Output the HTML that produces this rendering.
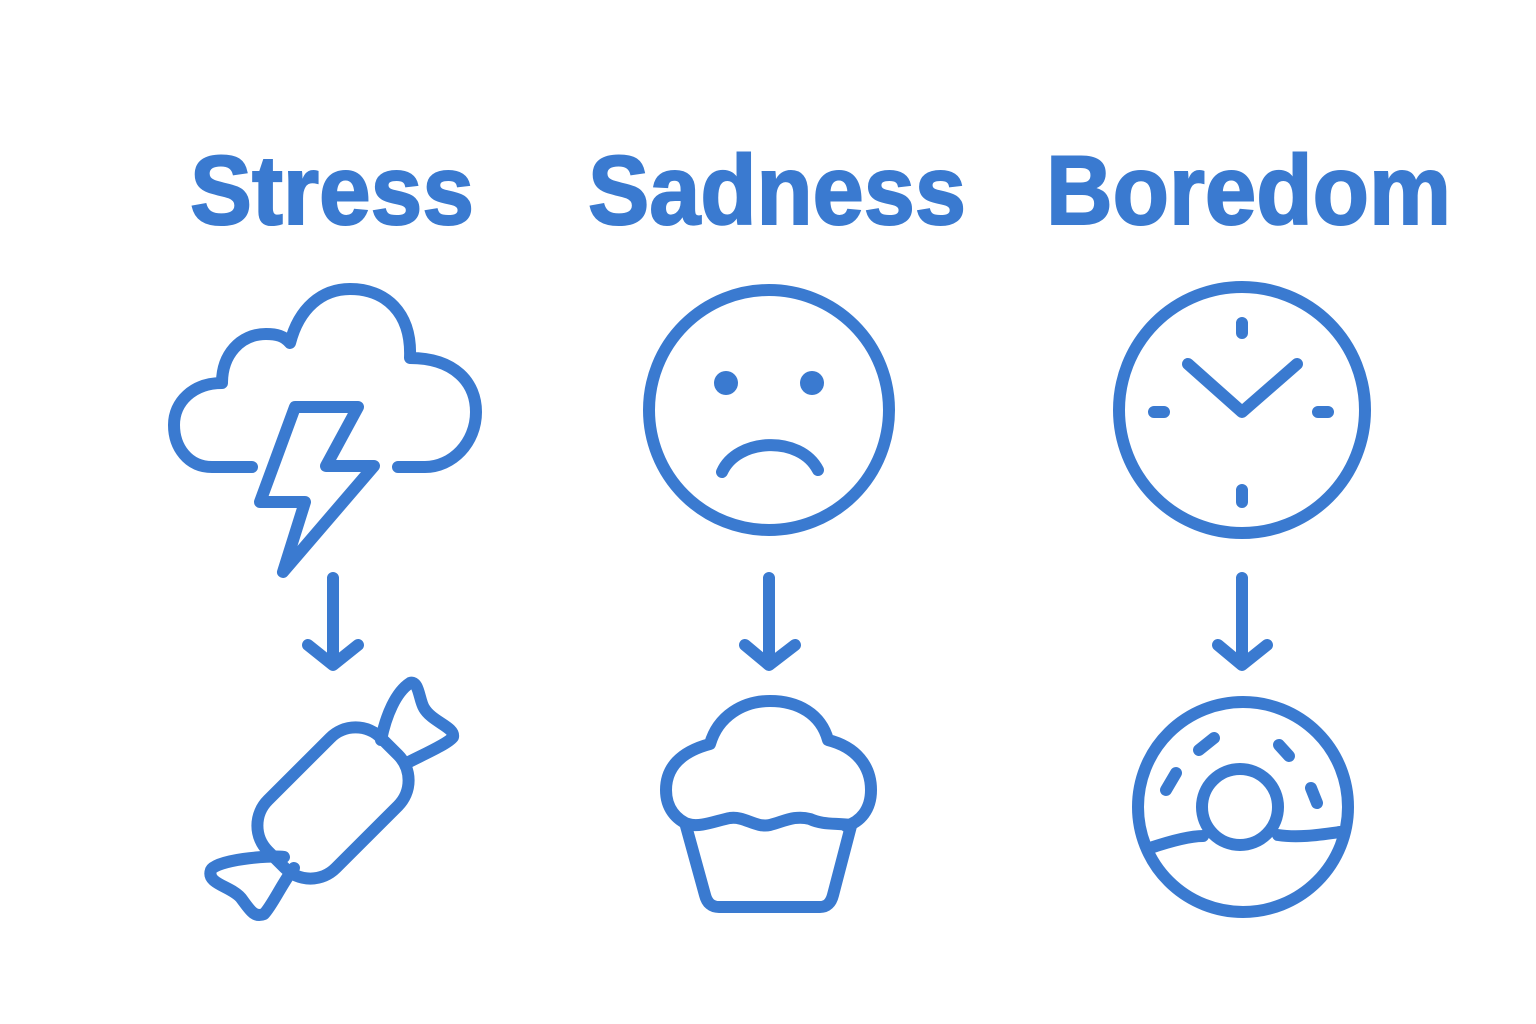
<!DOCTYPE html>
<html><head><meta charset="utf-8"><style>
html,body{margin:0;padding:0;background:#fff;}
svg{display:block;}
</style></head><body>
<svg width="1536" height="1024" viewBox="0 0 1536 1024" xmlns="http://www.w3.org/2000/svg">
<g fill="#3a7ad0" stroke="#3a7ad0" stroke-width="2" font-family="Liberation Sans, sans-serif" font-weight="bold" font-size="98">
<text x="190" y="224" textLength="284" lengthAdjust="spacingAndGlyphs">Stress</text>
<text x="588" y="224" textLength="378" lengthAdjust="spacingAndGlyphs">Sadness</text>
<text x="1046" y="224" textLength="405" lengthAdjust="spacingAndGlyphs">Boredom</text>
</g>
<g fill="none" stroke="#3a7ad0" stroke-width="12" stroke-linecap="round" stroke-linejoin="round">
<path d="M252,467 H212 C188,467 174,447 174,425 C174,402 193,383 222,383 C222,355 240,334 266,334 C277,334 284,336 290,343 C299,308 322,289 350,289 C385,289 412,312 410,358 C455,358 476,383 476,412 C476,443 452,467 425,467 H398"/>
<path d="M295,407 L358,407 L326,466 L374,466 L283,572 L305,502 L260,502 Z"/>
<path d="M333,578 V662 M308,645 L333,665 L358,645"/>
<path d="M769,578 V662 M745,645 L769,665 L795,645"/>
<path d="M1242,578 V662 M1218,645 L1242,665 L1267,645"/>
<rect x="253" y="755" width="160" height="96" rx="36" transform="rotate(-45 333 803)"/>
<path d="M381,740 C386,715 396,692 410,683 C419,680 419,700 424,708 C432,722 455,727 453,737 C448,744 420,756 405,764"/>
<path d="M284,857 C268,855 216,860 211,870 C206,884 231,886 241,898 C250,910 254,918 264,914 C272,906 284,880 294,868"/>
<circle cx="769" cy="410" r="120"/>
<path d="M722,472 C737,438 800,435 818,470"/>
<path d="M690,825 C676,820 666,808 666,790 C666,768 680,752 710,744 C718,716 743,701 770,701 C798,701 821,714 828,740 C856,747 871,766 871,790 C871,810 860,822 846,826"/>
<path d="M688,824 C700,828 718,820 730,818 C745,816 755,828 770,825 C785,821 795,815 810,819 C823,825 835,823 850,825"/>
<path d="M686,826 L705,895 Q708,907 719,907 H820 Q830,907 833,895 L851,826"/>
<circle cx="1242" cy="410" r="123"/>
<path d="M1242,323 V333 M1242,490 V502 M1154,412 H1164 M1318,412 H1328 M1188,364 L1242,412 L1297,364"/>
<circle cx="1243" cy="807" r="105"/>
<circle cx="1240" cy="807" r="38"/>
<path d="M1150,848 C1168,842 1190,836 1203,836 M1278,835 C1298,838 1318,835 1340,832"/>
<path d="M1199,750 L1214,738 M1279,745 L1289,756 M1166,790 L1176,773 M1311,788 L1317,803"/>
</g>
<g fill="#3a7ad0">
<circle cx="726" cy="383" r="12"/>
<circle cx="812" cy="383" r="12"/>
</g>
</svg>
</body></html>
